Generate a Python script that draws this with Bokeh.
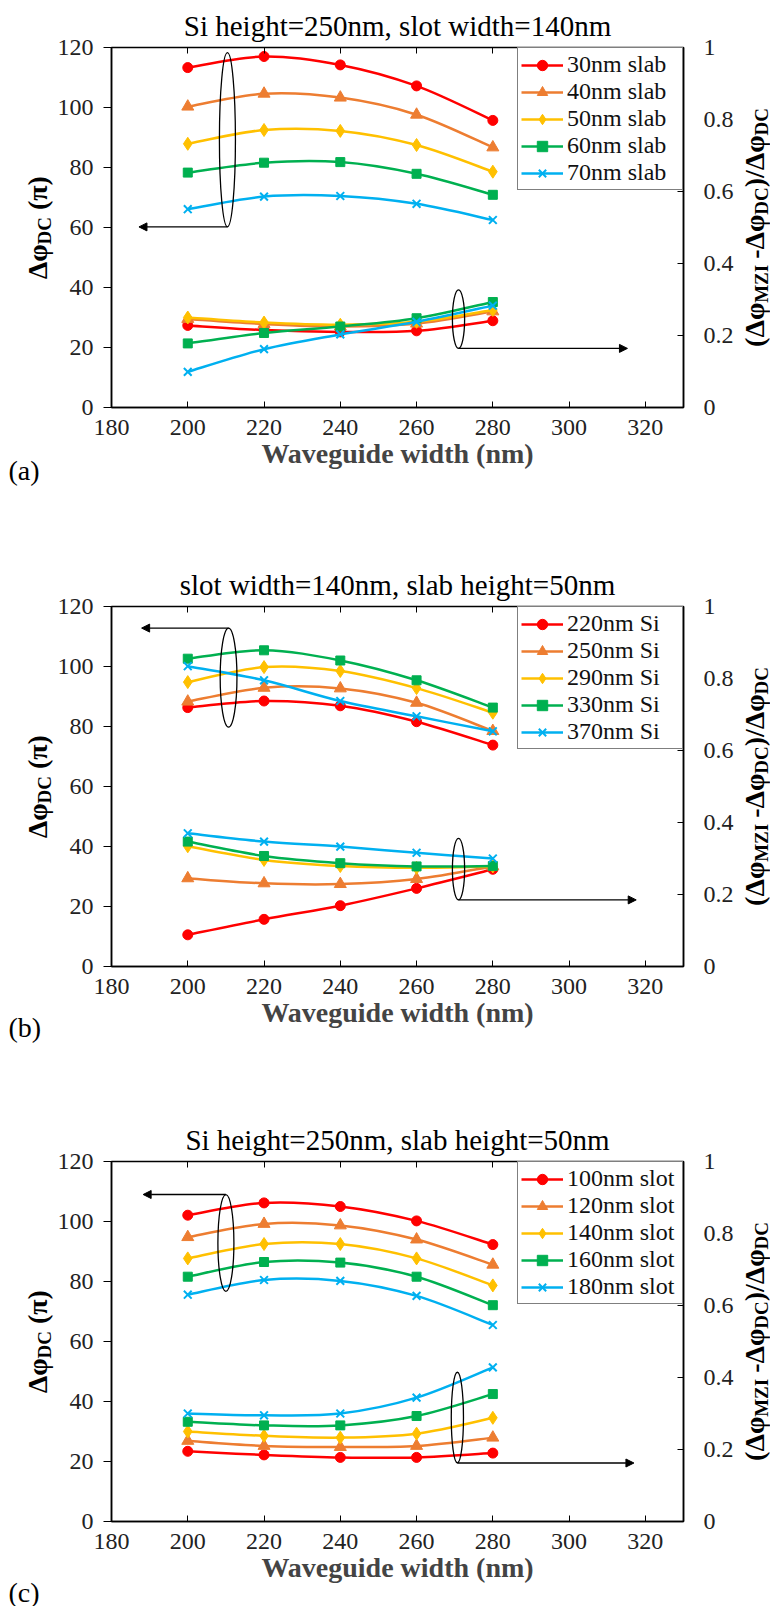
import math
from bokeh.plotting import figure
from bokeh.layouts import column, row
from bokeh.models import (Range1d, LinearAxis, FixedTicker, Legend, LegendItem,
                          Label, Arrow, NormalHead)
from bokeh.embed import file_html
from bokeh.resources import INLINE

# ---------------- data ----------------
width_nm = [200, 220, 240, 260, 280]
x_ticks = [180, 200, 220, 240, 260, 280, 300, 320]
y_ticks = [0, 20, 40, 60, 80, 100, 120]
r_ticks = [0, 0.2, 0.4, 0.6, 0.8, 1]
r_tick_labels = ["0", "0.2", "0.4", "0.6", "0.8", "1"]

titles = ["Si height=250nm, slot width=140nm",
          "slot width=140nm, slab height=50nm",
          "Si height=250nm, slab height=50nm"]
tags = ["(a)", "(b)", "(c)"]

# panel (a): slab height
a_names = ["30nm slab", "40nm slab", "50nm slab", "60nm slab", "70nm slab"]
a_dc_30 = [113.3, 117.0, 114.2, 107.2, 95.7]
a_dc_40 = [100.3, 104.6, 103.3, 97.6, 86.7]
a_dc_50 = [87.9, 92.5, 92.2, 87.5, 78.6]
a_dc_60 = [78.3, 81.6, 81.8, 77.9, 70.9]
a_dc_70 = [66.1, 70.3, 70.5, 67.9, 62.5]
a_rat_30 = [0.228, 0.215, 0.210, 0.213, 0.241]
a_rat_40 = [0.246, 0.232, 0.225, 0.233, 0.267]
a_rat_50 = [0.250, 0.236, 0.230, 0.238, 0.271]
a_rat_60 = [0.178, 0.207, 0.225, 0.248, 0.293]
a_rat_70 = [0.099, 0.162, 0.203, 0.238, 0.283]

# panel (b): Si height
b_names = ["220nm Si", "250nm Si", "290nm Si", "330nm Si", "370nm Si"]
b_dc_220 = [86.3, 88.5, 86.9, 81.6, 73.8]
b_dc_250 = [88.3, 92.9, 92.7, 87.9, 78.5]
b_dc_290 = [94.8, 99.8, 98.5, 92.8, 84.6]
b_dc_330 = [102.6, 105.4, 102.0, 95.4, 86.3]
b_dc_370 = [100.1, 95.4, 88.5, 83.4, 78.4]
b_rat_220 = [0.088, 0.131, 0.169, 0.217, 0.270]
b_rat_250 = [0.245, 0.231, 0.229, 0.243, 0.278]
b_rat_290 = [0.334, 0.296, 0.279, 0.274, 0.278]
b_rat_330 = [0.347, 0.307, 0.287, 0.278, 0.279]
b_rat_370 = [0.370, 0.347, 0.333, 0.316, 0.300]

# panel (c): slot width
c_names = ["100nm slot", "120nm slot", "140nm slot", "160nm slot", "180nm slot"]
c_dc_100 = [102.1, 106.2, 105.0, 100.2, 92.3]
c_dc_120 = [94.8, 99.2, 98.7, 94.0, 85.6]
c_dc_140 = [87.7, 92.5, 92.5, 87.7, 78.7]
c_dc_160 = [81.6, 86.5, 86.3, 81.6, 72.1]
c_dc_180 = [75.6, 80.5, 80.2, 75.2, 65.5]
c_rat_100 = [0.195, 0.185, 0.178, 0.178, 0.190]
c_rat_120 = [0.224, 0.210, 0.207, 0.210, 0.233]
c_rat_140 = [0.250, 0.238, 0.233, 0.244, 0.288]
c_rat_160 = [0.277, 0.267, 0.267, 0.293, 0.354]
c_rat_180 = [0.300, 0.295, 0.300, 0.344, 0.428]

# axis-assignment annotations (ellipse around a group + arrow to its axis)
# (centre x, bottom y, top y, width, arrow y, arrow tip x) in left-axis units
ann_up = [(210.4, 60.2, 118.3, 4.2, 60.2, 187.2),
          (210.7, 79.8, 112.8, 4.4, 112.8, 187.9),
          (210.0, 76.7, 109.0, 4.2, 109.0, 188.3)]
ann_low = [(271.0, 19.7, 39.2, 3.2, 19.7, 315.3),
           (271.0, 22.2, 42.7, 3.2, 22.2, 317.6),
           (270.7, 19.5, 49.8, 3.2, 19.5, 317.0)]

panels = [
    (a_names, [a_dc_30, a_dc_40, a_dc_50, a_dc_60, a_dc_70],
     [a_rat_30, a_rat_40, a_rat_50, a_rat_60, a_rat_70]),
    (b_names, [b_dc_220, b_dc_250, b_dc_290, b_dc_330, b_dc_370],
     [b_rat_220, b_rat_250, b_rat_290, b_rat_330, b_rat_370]),
    (c_names, [c_dc_100, c_dc_120, c_dc_140, c_dc_160, c_dc_180],
     [c_rat_100, c_rat_120, c_rat_140, c_rat_160, c_rat_180]),
]

# ---------------- style ----------------
FONT = "Liberation Serif"
colors = ["#FF0000", "#ED7D31", "#FFC000", "#00B050", "#00B0F0"]
markers = ["circle", "triangle", "diamond", "square", "x"]
msizes = [10, 12, 13, 9, 11]

X0, X1, Y1 = 180, 330, 120
LEFT_W, RIGHT_W = 54, 34           # side strips holding the rotated axis titles
MAIN_W = 770 - LEFT_W - RIGHT_W
FRAME_L, FRAME_W, FRAME_H = 56, 574, 360   # frame inside the main figure
fig_heights = [540, 555, 511]
tops = [47, 66, 66]
tag_dy = [63, 61, 71]


def smooth(xs, ys):
    n = len(xs)
    d = dict(x0=[], y0=[], x1=[], y1=[], cx0=[], cy0=[], cx1=[], cy1=[])
    for i in range(n - 1):
        a = i - 1 if i > 0 else i
        b = i + 2 if i + 2 < n else i + 1
        d["x0"].append(xs[i]); d["y0"].append(ys[i])
        d["x1"].append(xs[i + 1]); d["y1"].append(ys[i + 1])
        d["cx0"].append(xs[i] + (xs[i + 1] - xs[a]) / 6)
        d["cy0"].append(ys[i] + (ys[i + 1] - ys[a]) / 6)
        d["cx1"].append(xs[i + 1] - (xs[b] - xs[i]) / 6)
        d["cy1"].append(ys[i + 1] - (ys[b] - ys[i]) / 6)
    return d


EM = {"Δ": 0.64, "φ": 0.6, "π": 0.56, "(": 0.333, ")": 0.333,
      "-": 0.333, "/": 0.278, "D": 0.722, "C": 0.722, "M": 0.944, "Z": 0.667,
      "I": 0.389}
BIG, SUB = 28, 19


def side_fig(w, H):
    f = figure(width=w, height=H, x_range=Range1d(0, w), y_range=Range1d(0, H),
               x_axis_type=None, y_axis_type=None, output_backend="svg",
               toolbar_location=None, min_border=0, min_border_left=0,
               min_border_right=0, min_border_top=0, min_border_bottom=0,
               outline_line_color=None, frame_align=False,
               background_fill_color="white", border_fill_color="white")
    return f


def rotated_title(f, pieces, x_mid, y_center):
    # pieces: (text, is_subscript, gap in px before it); text reads bottom-to-top
    lengths = [g + sum(EM.get(ch, 0.5) for ch in t) * (SUB if s else BIG)
               for t, s, g in pieces]
    start = y_center - sum(lengths) / 2
    cum = 0
    for (t, s, g), L in zip(pieces, lengths):
        f.add_layout(Label(x=x_mid + (7 if s else 0), y=start + cum + g, text=t,
                           angle=math.pi / 2, text_align="left",
                           text_baseline="middle",
                           text_font=FONT, text_font_style="bold",
                           text_font_size=f"{SUB if s else BIG}px",
                           text_color="black"))
        cum += L


rows = []
for k, (names, dc, rat) in enumerate(panels):
    H = fig_heights[k]
    bottom = H - tops[k] - FRAME_H
    p = figure(width=MAIN_W, height=H, x_range=Range1d(X0, X1), y_range=Range1d(0, Y1),
               output_backend="svg", toolbar_location=None, frame_align=False,
               min_border_left=FRAME_L, min_border_right=MAIN_W - FRAME_L - FRAME_W,
               min_border_top=tops[k], min_border_bottom=bottom,
               background_fill_color="white", border_fill_color="white",
               outline_line_color="black", outline_line_width=1.5)
    p.extra_y_ranges = {"right": Range1d(0, 1)}
    p.xgrid.visible = False
    p.ygrid.visible = False

    p.title.text = titles[k]
    p.title.align = "center"
    p.title.offset = -14
    p.title.standoff = 12
    p.title.text_font = FONT
    p.title.text_font_style = "normal"
    p.title.text_font_size = "29px"
    p.title.text_color = "black"

    xa = p.xaxis[0]
    xa.ticker = FixedTicker(ticks=x_ticks)
    xa.major_tick_in = 6
    xa.major_tick_out = 0
    xa.minor_tick_line_color = None
    xa.axis_line_width = 1.5
    xa.major_label_text_font = FONT
    xa.major_label_text_font_size = "24px"
    xa.major_label_text_color = "#222222"
    xa.major_label_standoff = 12
    xa.axis_label = "Waveguide width (nm)"
    xa.axis_label_text_font = FONT
    xa.axis_label_text_font_style = "bold"
    xa.axis_label_text_font_size = "28px"
    xa.axis_label_standoff = 0

    ya = p.yaxis[0]
    ya.ticker = FixedTicker(ticks=y_ticks)
    ya.major_tick_in = 0
    ya.major_tick_out = 8
    ya.minor_tick_line_color = None
    ya.axis_line_width = 1.5
    ya.major_label_text_font = FONT
    ya.major_label_text_font_size = "24px"
    ya.major_label_text_color = "#222222"
    ya.major_label_standoff = 10

    ra = LinearAxis(y_range_name="right", ticker=FixedTicker(ticks=r_ticks),
                    major_label_overrides=dict(zip(r_ticks, r_tick_labels)),
                    major_tick_in=6, major_tick_out=0, minor_tick_line_color=None,
                    axis_line_width=1.5, major_label_standoff=20,
                    major_label_text_font=FONT, major_label_text_font_size="24px",
                    major_label_text_color="#222222")
    p.add_layout(ra, "right")

    ta = LinearAxis(ticker=FixedTicker(ticks=x_ticks), major_tick_in=6,
                    major_tick_out=0, minor_tick_line_color=None,
                    axis_line_color=None, major_label_text_font_size="1px",
                    major_label_text_color=None, major_label_standoff=0)
    p.add_layout(ta, "above")

    items = []
    for i in range(5):
        c = colors[i]
        lw = 2 if markers[i] == "x" else 1
        bu = p.bezier(line_color=c, line_width=2.5, **smooth(width_nm, dc[i]))
        su = p.scatter(width_nm, dc[i], marker=markers[i], size=msizes[i],
                       fill_color=c, line_color=c, line_width=lw)
        p.bezier(line_color=c, line_width=2.5, y_range_name="right",
                 **smooth(width_nm, rat[i]))
        p.scatter(width_nm, rat[i], marker=markers[i], size=msizes[i],
                  fill_color=c, line_color=c, y_range_name="right", line_width=lw)
        items.append(LegendItem(label=names[i], renderers=[bu, su]))

    for (ex, eb, et, ew, ay, tip) in (ann_up[k], ann_low[k]):
        p.ellipse(x=[ex], y=[(eb + et) / 2], width=[ew], height=[et - eb],
                  fill_color=None, line_color="black", line_width=1.3)
        p.add_layout(Arrow(end=NormalHead(size=8, fill_color="black", line_color="black"),
                           x_start=ex, y_start=ay, x_end=tip, y_end=ay,
                           line_color="black", line_width=1.3))

    leg = Legend(items=items, location="top_right", margin=0, padding=3, spacing=0,
                 glyph_width=42, glyph_height=26, label_height=26, label_width=112,
                 label_standoff=4, border_line_color="black", border_line_width=1.5,
                 background_fill_color="white", background_fill_alpha=1.0,
                 label_text_font=FONT, label_text_font_size="24px",
                 label_text_color="#111111")
    p.add_layout(leg)

    # side strips: rotated axis titles and the panel tag
    y_mid = bottom + FRAME_H / 2
    lf = side_fig(LEFT_W, H)
    rotated_title(lf, [("Δφ", False, 0), ("DC", True, 0), ("(π)", False, 7)], 37, y_mid)
    lf.add_layout(Label(x=8, y=bottom - tag_dy[k], text=tags[k], text_align="left",
                        text_baseline="middle", text_font=FONT,
                        text_font_size="28px", text_color="black"))
    rf = side_fig(RIGHT_W, H)
    rotated_title(rf, [("(Δφ", False, 0), ("MZI", True, 0), ("-Δφ", False, 6),
                       ("DC", True, 0), (")/Δφ", False, 0), ("DC", True, 0)], 18, y_mid)
    rows.append(row(lf, p, rf, spacing=0))

layout = column(*rows, spacing=0)
open("out.html", "w").write(file_html(layout, INLINE, "chart"))
